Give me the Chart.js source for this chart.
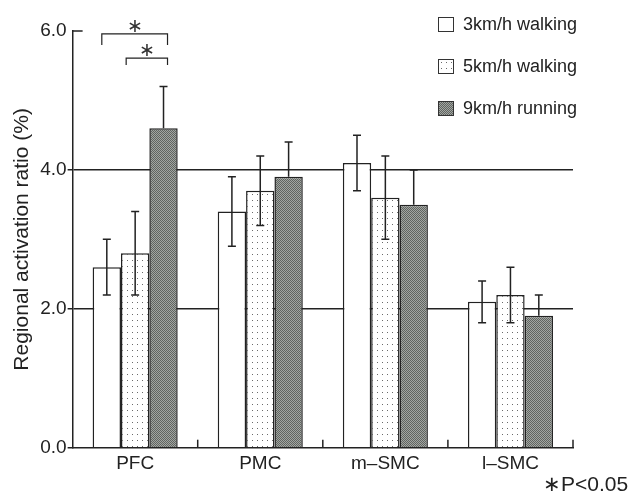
<!DOCTYPE html>
<html><head><meta charset="utf-8">
<script src="https://cdn.jsdelivr.net/npm/chart.js@4.4.0/dist/chart.umd.min.js"></script>
<style>
html,body{margin:0;padding:0;background:#fff;}
#wrap{position:relative;width:631px;height:496px;overflow:hidden;}
canvas{display:block;}
#legend{position:absolute;left:438px;top:13px;font-family:"Liberation Sans",Arial,sans-serif;font-size:18px;color:#222;}
.row{display:flex;align-items:center;height:22px;margin-bottom:20px;white-space:nowrap;}
.sw{width:14px;height:13px;border:1px solid #333;margin-right:9px;box-sizing:content-box;}
#pnote{position:absolute;left:543px;top:472px;font-family:"Liberation Sans",Arial,sans-serif;font-size:21px;color:#222;white-space:nowrap;}
</style>
</head><body>
<div id="wrap">
<canvas id="c" width="631" height="496"></canvas>
<div id="legend"></div>
<div id="pnote"></div>
</div>
<script>
// ---- data ----
const categories = ['PFC', 'PMC', 'm\u2013SMC', 'l\u2013SMC'];
const seriesLabels = ['3km/h walking', '5km/h walking', '9km/h running'];
const walk3 = [2.6, 3.4, 4.1, 2.1];
const walk5 = [2.8, 3.7, 3.6, 2.2];
const run9  = [4.6, 3.9, 3.5, 1.9];
const err3 = [0.4, 0.5, 0.4, 0.3];
const err5 = [0.6, 0.5, 0.6, 0.4];
const err9 = [0.6, 0.5, 0.5, 0.3];
const yTickValues = [0, 2, 4, 6];
const yGridValues = [2, 4];
const sigBrackets = [
  {category: 0, from: 0, to: 2, y: 5.96, drop: 0.16},
  {category: 0, from: 1, to: 2, y: 5.61, drop: 0.10}
];
const sigMark = '\u2217';
const yTitle = 'Regional activation ratio (%)';
const pNote = '\u2217P<0.05';

// ---- patterns ----
function makeDots() {
  const c = document.createElement('canvas'); c.width = 5; c.height = 6;
  const g = c.getContext('2d');
  g.fillStyle = '#ffffff'; g.fillRect(0, 0, 5, 6);
  g.fillStyle = '#6a6a6a'; g.fillRect(2, 2, 1, 1);
  return c;
}
function makeDark() {
  const c = document.createElement('canvas'); c.width = 2; c.height = 2;
  const g = c.getContext('2d');
  g.fillStyle = '#a2a6a2'; g.fillRect(0, 0, 2, 2);
  g.fillStyle = '#606460'; g.fillRect(0, 0, 1, 1); g.fillRect(1, 1, 1, 1);
  return c;
}
const ctx0 = document.getElementById('c').getContext('2d');
const dotCanvas = makeDots(), darkCanvas = makeDark();
const fills = ['#ffffff', ctx0.createPattern(dotCanvas, 'repeat'), ctx0.createPattern(darkCanvas, 'repeat')];
const swatchBg = ['#ffffff', 'url(' + dotCanvas.toDataURL() + ')', 'url(' + darkCanvas.toDataURL() + ')'];
const errs = [err3, err5, err9];

// ---- legend (HTML) ----
const leg = document.getElementById('legend');
seriesLabels.forEach((lab, i) => {
  const r = document.createElement('div'); r.className = 'row';
  const s = document.createElement('div'); s.className = 'sw'; s.style.background = swatchBg[i];
  const t = document.createElement('span'); t.textContent = lab;
  r.appendChild(s); r.appendChild(t); leg.appendChild(r);
});
document.getElementById('pnote').textContent = pNote;

// ---- plugins ----
const decor = {
  id: 'decor',
  afterDatasetsDraw(chart) {
    const ctx = chart.ctx, y = chart.scales.y, x = chart.scales.x, ca = chart.chartArea;
    ctx.save();
    ctx.strokeStyle = '#222'; ctx.lineWidth = 1.5;
    // error bars
    chart.data.datasets.forEach((ds, i) => {
      const meta = chart.getDatasetMeta(i);
      meta.data.forEach((el, j) => {
        const v = ds.data[j], e = errs[i][j];
        const top = y.getPixelForValue(v + e);
        const bot = i === 2 ? el.y : y.getPixelForValue(v - e);
        ctx.beginPath();
        ctx.moveTo(el.x, top); ctx.lineTo(el.x, bot);
        ctx.moveTo(el.x - 4, top); ctx.lineTo(el.x + 4, top);
        if (i !== 2) { ctx.moveTo(el.x - 4, bot); ctx.lineTo(el.x + 4, bot); }
        ctx.stroke();
      });
    });
    // inward tick at top of y axis
    const yt = y.getPixelForValue(yTickValues[yTickValues.length - 1]);
    ctx.beginPath(); ctx.moveTo(ca.left, yt); ctx.lineTo(ca.left + 10, yt); ctx.stroke();
    // category boundary ticks (inward)
    for (let i = 0; i < categories.length; i++) {
      const bx = i < categories.length - 1 ? (x.getPixelForTick(i) + x.getPixelForTick(i + 1)) / 2 : ca.right;
      ctx.beginPath(); ctx.moveTo(bx, ca.bottom); ctx.lineTo(bx, ca.bottom - 8); ctx.stroke();
    }
    // significance brackets
    ctx.fillStyle = '#333';
    ctx.font = '19px "Liberation Sans", Arial, sans-serif';
    ctx.textAlign = 'center'; ctx.textBaseline = 'middle';
    sigBrackets.forEach((b, k) => {
      const a = chart.getDatasetMeta(b.from).data[b.category];
      const c = chart.getDatasetMeta(b.to).data[b.category];
      const x1 = a.x - (k === 0 ? 5 : 9), x2 = c.x + 4;
      const yy = y.getPixelForValue(b.y), yd = y.getPixelForValue(b.y - b.drop);
      ctx.beginPath();
      ctx.moveTo(x1, yd); ctx.lineTo(x1, yy); ctx.lineTo(x2, yy); ctx.lineTo(x2, yd);
      ctx.lineWidth = 1.2; ctx.stroke();
      ctx.fillText(sigMark, (x1 + x2) / 2, yy - 7);
    });
    ctx.restore();
  }
};

// ---- chart ----
new Chart(document.getElementById('c'), {
  type: 'bar',
  data: {
    labels: categories,
    datasets: [walk3, walk5, run9].map((d, i) => ({
      label: seriesLabels[i],
      data: d,
      backgroundColor: fills[i],
      borderColor: '#222',
      borderWidth: 1.5,
      borderSkipped: 'bottom',
      categoryPercentage: 0.68,
      barPercentage: 1.0
    }))
  },
  options: {
    responsive: false,
    animation: false,
    events: [],
    layout: {padding: {top: 31, right: 58, bottom: 15.5, left: 10}},
    plugins: {legend: {display: false}, tooltip: {enabled: false}},
    scales: {
      x: {
        grid: {display: false, drawTicks: false},
        border: {display: true, color: '#222', width: 1.5},
        ticks: {color: '#222', padding: 5, font: {family: '"Liberation Sans", Arial, sans-serif', size: 19}}
      },
      y: {
        min: 0, max: 6,
        afterBuildTicks(scale) { scale.ticks = yTickValues.map(v => ({value: v})); },
        grid: {
          drawTicks: true,
          tickLength: 5,
          lineWidth: 1.5,
          color: c => yGridValues.includes(c.tick && c.tick.value) ? '#222' : 'rgba(0,0,0,0)',
          tickColor: c => (c.tick && c.tick.value < 6) ? '#222' : 'rgba(0,0,0,0)'
        },
        border: {display: true, color: '#222', width: 1.5},
        ticks: {color: '#222', padding: 1, callback: v => Number(v).toFixed(1),
          font: {family: '"Liberation Sans", Arial, sans-serif', size: 19}},
        title: {display: true, text: yTitle, color: '#222', padding: {top: 0, bottom: 4},
          font: {family: '"Liberation Sans", Arial, sans-serif', size: 21}}
      }
    }
  },
  plugins: [decor]
});
</script>
</body></html>
